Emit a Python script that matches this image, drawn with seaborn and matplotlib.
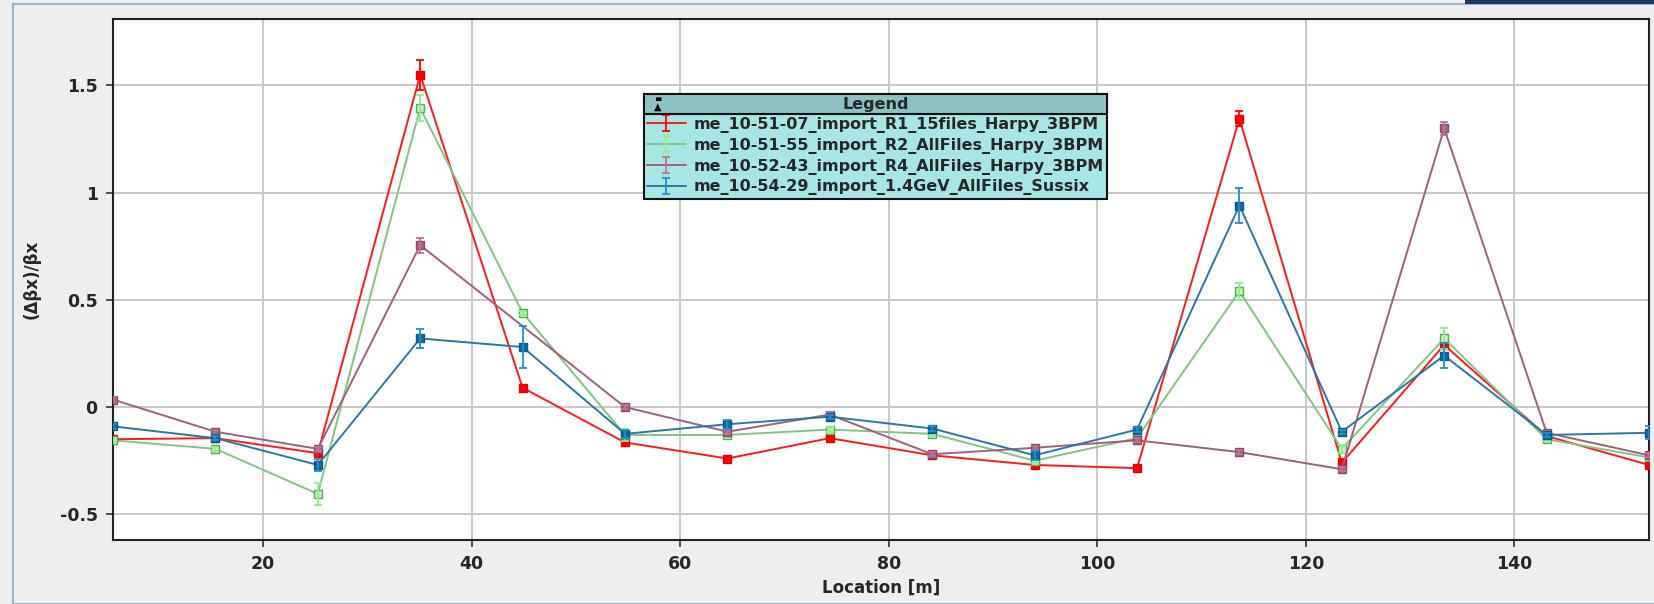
import numpy as np
import pandas as pd
import matplotlib
matplotlib.use("Agg")
import matplotlib.pyplot as plt
import seaborn as sns
from matplotlib.patches import Rectangle
from matplotlib.legend_handler import HandlerTuple

# ---------------- data ----------------
location = [5.6, 15.42, 25.24, 35.06, 44.88, 54.7, 64.52, 74.34, 84.16, 93.98,
            103.8, 113.62, 123.44, 133.26, 143.08, 152.9]

series_names = ["me_10-51-07_import_R1_15files_Harpy_3BPM",
                "me_10-51-55_import_R2_AllFiles_Harpy_3BPM",
                "me_10-52-43_import_R4_AllFiles_Harpy_3BPM",
                "me_10-54-29_import_1.4GeV_AllFiles_Sussix"]

r1_vals = [-0.15, -0.145, -0.215, 1.55, 0.09, -0.165, -0.24, -0.145, -0.225, -0.27,
           -0.285, 1.345, -0.26, 0.29, -0.135, -0.27]
r1_err = [0.01, 0.01, 0.02, 0.07, 0.01, 0.01, 0.01, 0.01, 0.01, 0.01,
          0.01, 0.035, 0.02, 0.02, 0.01, 0.01]

r2_vals = [-0.155, -0.195, -0.405, 1.395, 0.44, -0.13, -0.13, -0.105, -0.125, -0.25,
           -0.145, 0.54, -0.195, 0.32, -0.15, -0.235]
r2_err = [0.01, 0.01, 0.05, 0.06, 0.01, 0.03, 0.01, 0.01, 0.01, 0.01,
          0.01, 0.04, 0.02, 0.05, 0.01, 0.01]

r4_vals = [0.035, -0.115, -0.195, 0.755, np.nan, 0.0, -0.115, -0.035, -0.22, -0.19,
           -0.155, -0.21, -0.29, 1.3, -0.12, -0.225]
r4_err = [0.01, 0.01, 0.01, 0.035, np.nan, 0.01, 0.01, 0.01, 0.01, 0.01,
          0.01, 0.01, 0.01, 0.03, 0.01, 0.01]

sx_vals = [-0.09, -0.145, -0.27, 0.32, 0.28, -0.125, -0.08, -0.045, -0.1, -0.225,
           -0.105, 0.94, -0.115, 0.24, -0.13, -0.12]
sx_err = [0.01, 0.01, 0.03, 0.045, 0.1, 0.02, 0.02, 0.01, 0.01, 0.02,
          0.01, 0.08, 0.01, 0.06, 0.01, 0.03]

y_ticks = [-0.5, 0, 0.5, 1, 1.5]
y_tick_labels = ["-0.5", "0", "0.5", "1", "1.5"]
x_ticks = [20, 40, 60, 80, 100, 120, 140]

# ---------------- styling ----------------
line_colors = ["#ff1a1a", "#80c680", "#a0607e", "#2a78a8"]
err_colors = ["#ff0000", "#8cf08c", "#c07090", "#1e90d0"]
marker_face = ["#ff0000", "#c8f0c8", "#a86484", "#1468a0"]
marker_edge = ["#e00000", "#4eb04e", "#8a4a6a", "#105888"]

frames = []
for name, v, e in zip(series_names, [r1_vals, r2_vals, r4_vals, sx_vals],
                      [r1_err, r2_err, r4_err, sx_err]):
    frames.append(pd.DataFrame({"Location": location, "value": v, "err": e, "series": name}))
df = pd.concat(frames, ignore_index=True).dropna()

sns.set_theme(style="white")
plt.rcParams["font.family"] = ["DejaVu Sans"]
plt.rcParams["font.weight"] = "bold"

fig = plt.figure(figsize=(16.54, 6.04), dpi=100, facecolor="#eeeeee")
ax = fig.add_axes([113 / 1654, 1 - 540 / 604, (1649 - 113) / 1654, (540 - 19) / 604])
ax.set_facecolor("white")

# window decorations
fig.patches.append(Rectangle((13 / 1654, 0), 1.2, (604 - 4) / 604, transform=fig.transFigure,
                             facecolor="none", edgecolor="#9db3cc", linewidth=1.5, zorder=-1))
fig.patches.append(Rectangle((1465 / 1654, 1 - 4 / 604), 1, 4 / 604, transform=fig.transFigure,
                             facecolor="#1c3a5c", edgecolor="none", zorder=-1))

handles = []
for i, name in enumerate(series_names):
    sub = df[df["series"] == name]
    sns.lineplot(data=sub, x="Location", y="value", ax=ax, color=line_colors[i],
                 linewidth=1.4, marker="s", markersize=5.5,
                 markerfacecolor=marker_face[i], markeredgecolor=marker_edge[i],
                 markeredgewidth=1.0, legend=False, zorder=3 + i * 0.1, sort=False)
    ln = ax.lines[-1]
    eb = ax.errorbar(sub["Location"], sub["value"], yerr=sub["err"], fmt="none",
                     ecolor=err_colors[i], elinewidth=1.3, capsize=3, capthick=1.3,
                     zorder=3 + i * 0.1)
    handles.append((ln, eb))

ax.set_xlim(5.6, 152.9)
ax.set_ylim(-0.62, 1.81)
ax.set_yticks(y_ticks)
ax.set_yticklabels(y_tick_labels)
ax.set_xticks(x_ticks)
ax.grid(True, color="#c8c8c8", linewidth=1.4)
ax.set_axisbelow(True)
for s in ax.spines.values():
    s.set_color("#222222")
    s.set_linewidth(1.5)
ax.tick_params(axis="both", direction="out", length=5, width=1.2, color="#333333",
               labelsize=12.5, pad=6, bottom=True, left=True)
for lab in ax.get_xticklabels() + ax.get_yticklabels():
    lab.set_fontweight("bold")
ax.set_xlabel("Location [m]", fontsize=12, fontweight="bold", labelpad=4)
ax.set_ylabel("(\u0394\u03b2x)/\u03b2x", fontsize=12, fontweight="bold", labelpad=14)

leg = ax.legend(handles=[(h[0], h[1]) for h in handles], labels=series_names,
                handler_map={tuple: HandlerTuple(ndivide=1, pad=0)},
                title="Legend", loc="upper left", bbox_to_anchor=(0.3457, 0.856),
                borderaxespad=0, frameon=True, fancybox=False, facecolor="#a8e6e6",
                edgecolor="#111111", framealpha=1, prop={"weight": "bold", "size": 11.5},
                title_fontproperties={"weight": "bold", "size": 11.5},
                labelspacing=0.3, handlelength=2.4, handletextpad=0.5,
                borderpad=0.2, markerscale=0)
leg.get_frame().set_linewidth(1.5)
leg.set_zorder(10)

fig.canvas.draw()
lbb = leg.get_window_extent()
tbb = leg.get_title().get_window_extent()
bar_y0 = tbb.y0 - 2
title_bar = Rectangle((lbb.x0, bar_y0), lbb.width, lbb.y1 - bar_y0, transform=None,
                      facecolor="#8ec2c2", edgecolor="#111111", linewidth=1.5, zorder=11)
ax.add_artist(title_bar)
ax.text((lbb.x0 + lbb.x1) / 2, (tbb.y0 + tbb.y1) / 2, "Legend", transform=None,
        ha="center", va="center", fontsize=11.5, fontweight="bold", zorder=12)
ax.text(lbb.x0 + 14, (tbb.y0 + tbb.y1) / 2 - 2, "\u25b2", transform=None, ha="center",
        va="center", fontsize=7, zorder=12, color="black")
ax.text(lbb.x0 + 14, (tbb.y0 + tbb.y1) / 2 + 4, "\u2580", transform=None, ha="center",
        va="center", fontsize=5, zorder=12, color="black")
leg.get_title().set_alpha(0)

fig.savefig("out.png", dpi=100, facecolor=fig.get_facecolor())
